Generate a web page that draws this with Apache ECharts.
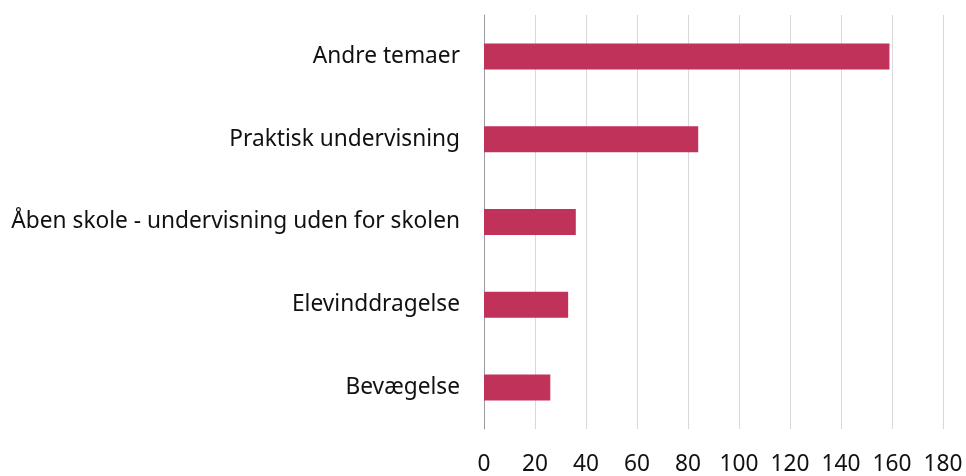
<!DOCTYPE html>
<html>
<head>
<meta charset="utf-8">
<script src="https://cdn.jsdelivr.net/npm/echarts@6/dist/echarts.min.js"></script>
<style>
  html, body { margin: 0; padding: 0; background: #fff; }
  #chart { width: 966px; height: 476px; }
</style>
</head>
<body>
<div id="chart"></div>
<script>
// categories listed bottom to top (ECharts category y axis starts at the bottom)
const categories = [
  'Bevægelse',
  'Elevinddragelse',
  'Åben skole - undervisning uden for skolen',
  'Praktisk undervisning',
  'Andre temaer'
];
const values = [26, 33, 36, 84, 159];
const axisMin = 0;
const axisMax = 180;
const axisStep = 20;

const fontFamily = '"Noto Sans", "Open Sans", sans-serif';

const chart = echarts.init(document.getElementById('chart'), null, { renderer: 'canvas' });

chart.setOption({
  animation: false,
  grid: { left: 484, right: 23, top: 15, bottom: 46, containLabel: false },
  xAxis: {
    type: 'value',
    min: axisMin,
    max: axisMax,
    interval: axisStep,
    axisLine: { show: false },
    axisTick: { show: false },
    axisLabel: { color: '#111', fontSize: 22.7, fontFamily, margin: 24 },
    splitLine: { show: true, lineStyle: { color: '#d9d9d9', width: 1 } }
  },
  yAxis: {
    type: 'category',
    data: categories,
    axisLine: { show: true, lineStyle: { color: '#9a9aa2', width: 1 } },
    axisTick: { show: false },
    axisLabel: { color: '#111', fontSize: 22.7, fontFamily, margin: 24 }
  },
  series: [{
    type: 'bar',
    data: values,
    barWidth: 26,
    itemStyle: { color: '#c0325a' }
  }]
});
</script>
</body>
</html>
